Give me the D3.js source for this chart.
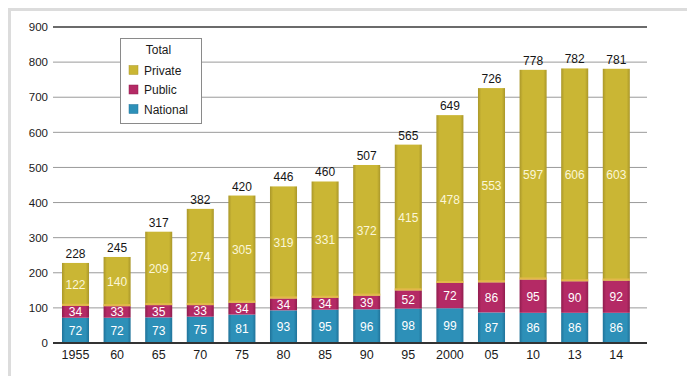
<!DOCTYPE html>
<html>
<head>
<meta charset="utf-8">
<script src="https://cdn.jsdelivr.net/npm/d3@7"></script>
<style>
  html, body { margin: 0; padding: 0; background: #fff; }
  svg { display: block; font-family: "Liberation Sans", Arial, Helvetica, sans-serif; }
</style>
</head>
<body>
<svg id="chart" width="687" height="376"></svg>
<script>
// Years shown along the bottom
const categories = ["1955", "60", "65", "70", "75", "80", "85", "90", "95", "2000", "05", "10", "13", "14"];
// Stacked series, bottom to top
const nationalValues = [72, 72, 73, 75, 81, 93, 95, 96, 98, 99, 87, 86, 86, 86];
const publicValues   = [34, 33, 35, 33, 34, 34, 34, 39, 52, 72, 86, 95, 90, 92];
const privateValues  = [122, 140, 209, 274, 305, 319, 331, 372, 415, 478, 553, 597, 606, 603];
// Totals printed above each bar
const totalValues    = [228, 245, 317, 382, 420, 446, 460, 507, 565, 649, 726, 778, 782, 781];
const yTicks = [0, 100, 200, 300, 400, 500, 600, 700, 800, 900];

const seriesKeys = ["national", "public", "private"];
const seriesNames = { national: "National", public: "Public", private: "Private" };
const colors = { national: "#2d90b8", public: "#b42a65", private: "#cab634" };
const edgeColors = { national: "#20739a", public: "#901d4e", private: "#aa972a" };

const rows = categories.map((c, i) => ({
  year: c,
  national: nationalValues[i],
  public: publicValues[i],
  private: privateValues[i],
  total: totalValues[i]
}));

const svg = d3.select("#chart");

// Light frame around the figure
svg.append("rect")
  .attr("x", 9.5).attr("y", 9.5)
  .attr("width", 690).attr("height", 380)
  .attr("fill", "none").attr("stroke", "#dcdcdc").attr("stroke-width", 3);

const x = d3.scaleBand()
  .domain(categories)
  .range([54.7, 637.1])
  .paddingInner(0.35)
  .paddingOuter(0.175);

const y = d3.scaleLinear().domain([0, 900]).range([343, 27]);

const gridLeft = 53, gridRight = 647;

// Shaded fills for the bar segments
const defs = svg.append("defs");
seriesKeys.forEach(k => {
  const g = defs.append("linearGradient").attr("id", "grad-" + k)
    .attr("x1", "0%").attr("x2", "100%").attr("y1", "0%").attr("y2", "0%");
  g.append("stop").attr("offset", "0%").attr("stop-color", edgeColors[k]);
  g.append("stop").attr("offset", "12%").attr("stop-color", colors[k]);
  g.append("stop").attr("offset", "88%").attr("stop-color", colors[k]);
  g.append("stop").attr("offset", "100%").attr("stop-color", edgeColors[k]);
});

// Horizontal gridlines
svg.append("g").selectAll("line")
  .data(yTicks.filter(t => t > 0 && t < 900))
  .join("line")
  .attr("x1", gridLeft).attr("x2", gridRight)
  .attr("y1", d => y(d)).attr("y2", d => y(d))
  .attr("stroke", "#9a9a9a").attr("stroke-width", 1);

svg.append("line")
  .attr("x1", gridLeft).attr("x2", gridRight)
  .attr("y1", y(900)).attr("y2", y(900))
  .attr("stroke", "#3a3a3a").attr("stroke-width", 1.5);

// Y axis labels
const yAxis = d3.axisLeft(y).tickValues(yTicks).tickSize(0).tickPadding(0);
const yAxisG = svg.append("g").attr("transform", "translate(48,0)").call(yAxis);
yAxisG.select(".domain").remove();
yAxisG.selectAll("text")
  .attr("font-size", 11.5).attr("fill", "#1a1a1a")
  .attr("font-family", "Liberation Sans, Arial, sans-serif");

// Stacked bars
const stack = d3.stack().keys(seriesKeys);
const stacked = stack(rows);

const layers = svg.append("g").selectAll("g")
  .data(stacked)
  .join("g")
  .attr("fill", d => "url(#grad-" + d.key + ")");

layers.selectAll("rect")
  .data(d => d)
  .join("rect")
  .attr("x", d => x(d.data.year))
  .attr("width", x.bandwidth())
  .attr("y", d => y(d[1]))
  .attr("height", d => y(d[0]) - y(d[1]));

// Thin warm highlight where the private segment starts
svg.append("g").selectAll("rect")
  .data(stacked[2])
  .join("rect")
  .attr("x", d => x(d.data.year))
  .attr("width", x.bandwidth())
  .attr("y", d => y(d[0]) - 2)
  .attr("height", 2)
  .attr("fill", "#e2b84a");

// Segment value labels
stacked.forEach(layer => {
  svg.append("g").selectAll("text")
    .data(layer)
    .join("text")
    .attr("x", d => x(d.data.year) + x.bandwidth() / 2)
    .attr("y", d => (y(d[0]) + y(d[1])) / 2 + 4.5)
    .attr("text-anchor", "middle")
    .attr("font-size", 12)
    .attr("fill", layer.key === "private" ? "#fbf6d8" : "#ffffff")
    .text(d => d.data[layer.key]);
});

// Totals above the bars
svg.append("g").selectAll("text")
  .data(rows)
  .join("text")
  .attr("x", d => x(d.year) + x.bandwidth() / 2)
  .attr("y", d => y(d.total) - 5)
  .attr("text-anchor", "middle")
  .attr("font-size", 12)
  .attr("fill", "#151515")
  .text(d => d.total);

// Baseline
svg.append("line")
  .attr("x1", gridLeft).attr("x2", gridRight)
  .attr("y1", y(0)).attr("y2", y(0))
  .attr("stroke", "#333").attr("stroke-width", 2);

// X axis labels
const xAxis = d3.axisBottom(x).tickSize(0).tickPadding(0);
const xAxisG = svg.append("g").attr("transform", "translate(0," + (y(0) + 7) + ")").call(xAxis);
xAxisG.select(".domain").remove();
xAxisG.selectAll("text")
  .attr("font-size", 12.5).attr("fill", "#1a1a1a")
  .attr("font-family", "Liberation Sans, Arial, sans-serif");

// Legend
const legend = svg.append("g").attr("transform", "translate(120.5,38.5)");
legend.append("rect")
  .attr("width", 81).attr("height", 85)
  .attr("fill", "#fff").attr("stroke", "#8a8a8a").attr("stroke-width", 1);
legend.append("text")
  .attr("x", 38).attr("y", 15)
  .attr("text-anchor", "middle")
  .attr("font-size", 12).attr("fill", "#1a1a1a")
  .text("Total");
["private", "public", "national"].forEach((k, i) => {
  const row = legend.append("g").attr("transform", "translate(0," + (31.5 + i * 19.5) + ")");
  row.append("rect")
    .attr("x", 8.5).attr("y", -4.5).attr("width", 9).attr("height", 9)
    .attr("fill", colors[k]).attr("stroke", edgeColors[k]).attr("stroke-width", 0.5);
  row.append("text")
    .attr("x", 23.5).attr("y", 4.5)
    .attr("font-size", 12).attr("fill", "#1a1a1a")
    .text(seriesNames[k]);
});
</script>
</body>
</html>
